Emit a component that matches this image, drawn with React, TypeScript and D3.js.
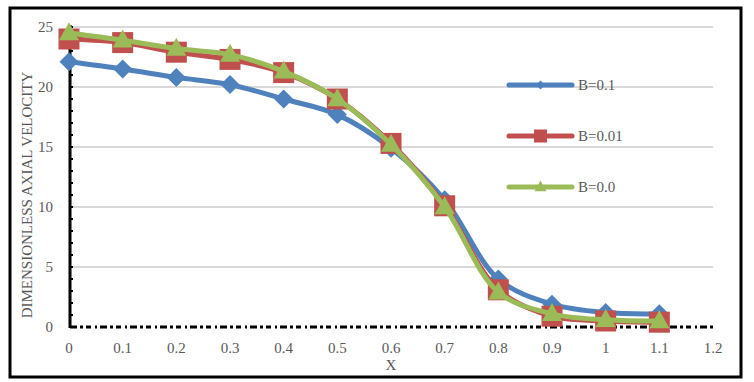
import React from "react";
import * as d3 from "d3";

const xValues = [0, 0.1, 0.2, 0.3, 0.4, 0.5, 0.6, 0.7, 0.8, 0.9, 1.0, 1.1];
const seriesB01 = [22.1, 21.5, 20.8, 20.2, 19.0, 17.7, 14.9, 10.6, 4.0, 1.9, 1.2, 1.1];
const seriesB001 = [24.0, 23.7, 22.9, 22.3, 21.2, 19.0, 15.3, 10.1, 3.1, 0.9, 0.5, 0.4];
const seriesB00 = [24.5, 23.9, 23.2, 22.7, 21.3, 19.0, 15.2, 10.0, 2.9, 1.1, 0.6, 0.5];
const seriesNames = ["B=0.1", "B=0.01", "B=0.0"];
const xTicks = [0, 0.1, 0.2, 0.3, 0.4, 0.5, 0.6, 0.7, 0.8, 0.9, 1, 1.1, 1.2];
const yTicks = [0, 5, 10, 15, 20, 25];
const yMinor = d3.range(0, 26, 1);
const xLabel = "X";
const yLabel = "DIMENSIONLESS AXIAL VELOCITY";

const colors = ["#4f81bd", "#c0504d", "#9bbb59"];
const FONT = "'Liberation Serif', 'DejaVu Serif', serif";

function Marker({ kind, x, y, s, color }: { kind: number; x: number; y: number; s: number; color: string }) {
  if (kind === 0) {
    const w = s / 2, h = s / 2;
    return <path d={`M${x},${y - h}L${x + w},${y}L${x},${y + h}L${x - w},${y}Z`} fill={color} />;
  }
  if (kind === 1) {
    return <rect x={x - s / 2} y={y - s / 2} width={s} height={s} fill={color} />;
  }
  const h = s * 0.9;
  return <path d={`M${x},${y - h * 0.6}L${x + s / 2},${y + h * 0.4}L${x - s / 2},${y + h * 0.4}Z`} fill={color} />;
}

export default function App() {
  const W = 754, H = 382;
  const x = d3.scaleLinear().domain([0, 1.2]).range([69, 713]);
  const y = d3.scaleLinear().domain([0, 25]).range([327, 27]);
  const all = [seriesB01, seriesB001, seriesB00];
  const line = d3
    .line<number>()
    .x((_, i) => x(xValues[i]))
    .y((d) => y(d))
    .curve(d3.curveCatmullRom.alpha(0.5));
  const markerSizes = [19, 21, 20];
  const legendSizes = [9, 13, 12];
  const legendY = [85, 136, 187];

  return (
    <svg width={W} height={H} style={{ position: "absolute", left: 0, top: 0 }}>
      <rect x={0} y={0} width={W} height={H} fill="#fff" />
      {yTicks.filter((t) => t > 0).map((t) => (
        <line key={t} x1={70} x2={713} y1={y(t)} y2={y(t)} stroke="#d9d9d9" strokeWidth={2} />
      ))}
      <line x1={70} x2={70} y1={y(25) - 2} y2={y(0) + 1} stroke="#000" strokeWidth={3} />
      {yMinor.map((t) => (
        <line key={t} x1={70} x2={73} y1={y(t)} y2={y(t)} stroke="#000" strokeWidth={2} />
      ))}
      <line x1={70} x2={713} y1={y(0)} y2={y(0)} stroke="#000" strokeWidth={3} strokeDasharray="7 3 3 3 5 4 2 3" />
      {xTicks.map((t) => (
        <text key={t} x={x(t)} y={353} textAnchor="middle" fontFamily={FONT} fontSize={15} fill="#595959">
          {String(t)}
        </text>
      ))}
      {yTicks.map((t) => (
        <text key={t} x={53} y={y(t) + 5} textAnchor="end" fontFamily={FONT} fontSize={15} fill="#595959">
          {t}
        </text>
      ))}
      <text x={391} y={370} textAnchor="middle" fontFamily={FONT} fontSize={15} fill="#595959">
        {xLabel}
      </text>
      <text
        transform={`translate(32,195) rotate(-90)`}
        textAnchor="middle"
        fontFamily={FONT}
        fontSize={15}
        fill="#595959"
      >
        {yLabel}
      </text>
      {all.map((s, k) => (
        <g key={k}>
          <path d={line(s) || ""} fill="none" stroke={colors[k]} strokeWidth={5} strokeLinejoin="round" />
          {s.map((v, i) => (
            <Marker key={i} kind={k} x={x(xValues[i])} y={y(v)} s={markerSizes[k]} color={colors[k]} />
          ))}
        </g>
      ))}
      {seriesNames.map((n, k) => (
        <g key={n}>
          <line x1={509} x2={572} y1={legendY[k]} y2={legendY[k]} stroke={colors[k]} strokeWidth={5} strokeLinecap="round" />
          <Marker kind={k} x={540.5} y={legendY[k]} s={legendSizes[k]} color={colors[k]} />
          <text x={578} y={legendY[k] + 5} fontFamily={FONT} fontSize={15} fill="#595959">
            {n}
          </text>
        </g>
      ))}
      <rect x={10} y={8} width={731} height={369} fill="none" stroke="#000" strokeWidth={3} />
    </svg>
  );
}
